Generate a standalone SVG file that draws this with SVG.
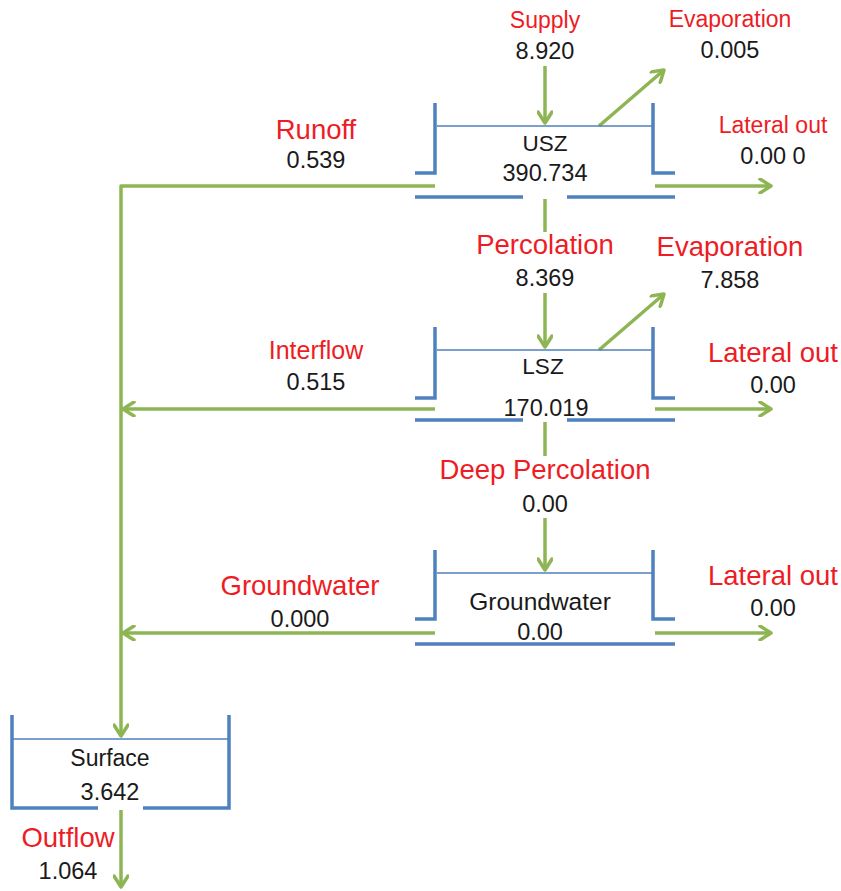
<svg xmlns="http://www.w3.org/2000/svg" width="841" height="891" viewBox="0 0 841 891">
<defs>
<marker id="ah" markerWidth="16" markerHeight="16" viewBox="-14 -8 16 16" refX="0" refY="0" orient="auto" markerUnits="userSpaceOnUse">
<polyline points="-11,-7 0,0 -11,7" fill="none" stroke="#8DB553" stroke-width="3.5" stroke-linecap="round" stroke-linejoin="round"/>
</marker>
</defs>
<style>
text{font-family:"Liberation Sans",Arial,sans-serif;text-anchor:middle}
.num{font-size:23.5px;fill:#1a1a1a}
.box{font-size:23px;fill:#1a1a1a}
.rs{font-size:23px;fill:#EE1C25}
.rl{font-size:27.5px;fill:#EE1C25}
.wall{fill:none;stroke:#4F81BD;stroke-width:3.5;stroke-linecap:butt}
.lvl{fill:none;stroke:#4F81BD;stroke-width:1.5}
.flow{fill:none;stroke:#8DB553;stroke-width:3.5;stroke-linejoin:round}
.arr{marker-end:url(#ah)}
</style>
<rect width="841" height="891" fill="#fff"/>
<g id="connectors">
<path class="flow arr" d="M545,66 L545,123"/>
<path class="flow arr" d="M599,126 L664,70"/>
<path class="flow arr" d="M435,186 L121,186 L121,736"/>
<path class="flow arr" d="M655,186 L771,186"/>
<path class="flow" d="M545,199 L545,232"/>
<path class="flow arr" d="M545,293 L545,347"/>
<path class="flow arr" d="M599,350 L664,294"/>
<path class="flow arr" d="M435,409 L123,409"/>
<path class="flow arr" d="M655,409 L771,409"/>
<path class="flow" d="M545,422 L545,456"/>
<path class="flow arr" d="M545,518 L545,570"/>
<path class="flow arr" d="M435,633 L123,633"/>
<path class="flow arr" d="M655,633 L771,633"/>
<path class="flow arr" d="M121,810 L121,887"/>
</g>
<g id="usz">
<path class="wall" d="M435,103 L435,173 L415,173"/>
<path class="wall" d="M653,103 L653,173 L675,173"/>
<path class="wall" d="M415,197 L523,197 M567,197 L675,197"/>
<path class="lvl" d="M437,126 L652,126"/>
<text class="box" x="545" y="151" style="font-size:22.5px">USZ</text>
<text class="num" x="545" y="181">390.734</text>
</g>
<g id="lsz">
<path class="wall" d="M435,327 L435,398 L415,398"/>
<path class="wall" d="M653,327 L653,398 L675,398"/>
<path class="wall" d="M415,420 L523,420 M567,420 L675,420"/>
<path class="lvl" d="M437,350 L652,350"/>
<text class="box" x="543" y="374" style="font-size:22.5px">LSZ</text>
<text class="num" x="546" y="416">170.019</text>
</g>
<g id="groundwater">
<path class="wall" d="M435,550 L435,619 L415,619"/>
<path class="wall" d="M653,550 L653,619 L675,619"/>
<path class="wall" d="M415,644 L675,644"/>
<path class="lvl" d="M437,573 L652,573"/>
<text class="box" x="540" y="610" style="font-size:24.5px">Groundwater</text>
<text class="num" x="540" y="640">0.00</text>
</g>
<g id="surface">
<path class="wall" d="M12,715 L12,808 L98,808"/>
<path class="wall" d="M143,808 L229,808 L229,715"/>
<path class="lvl" d="M13,739 L228,739"/>
<text class="box" x="110" y="766">Surface</text>
<text class="num" x="110" y="800">3.642</text>
</g>
<g id="labels">
<text class="rs" x="545" y="28">Supply</text>
<text class="num" x="545" y="59">8.920</text>
<text class="rs" x="730" y="27">Evaporation</text>
<text class="num" x="730" y="58">0.005</text>
<text class="rl" x="316" y="139">Runoff</text>
<text class="num" x="316" y="168">0.539</text>
<text class="rs" x="773" y="133">Lateral out</text>
<text class="num" x="773" y="164">0.00 0</text>
<text class="rl" x="545" y="254">Percolation</text>
<text class="num" x="545" y="286">8.369</text>
<text class="rl" x="730" y="256">Evaporation</text>
<text class="num" x="730" y="288">7.858</text>
<text class="rs" x="316" y="359" style="font-size:25px">Interflow</text>
<text class="num" x="316" y="390">0.515</text>
<text class="rl" x="773" y="362">Lateral out</text>
<text class="num" x="773" y="393">0.00</text>
<text class="rl" x="545" y="479">Deep Percolation</text>
<text class="num" x="545" y="512">0.00</text>
<text class="rl" x="300" y="595">Groundwater</text>
<text class="num" x="300" y="627">0.000</text>
<text class="rl" x="773" y="585">Lateral out</text>
<text class="num" x="773" y="616">0.00</text>
<text class="rl" x="68" y="847">Outflow</text>
<text class="num" x="68" y="879">1.064</text>
</g>
</svg>
